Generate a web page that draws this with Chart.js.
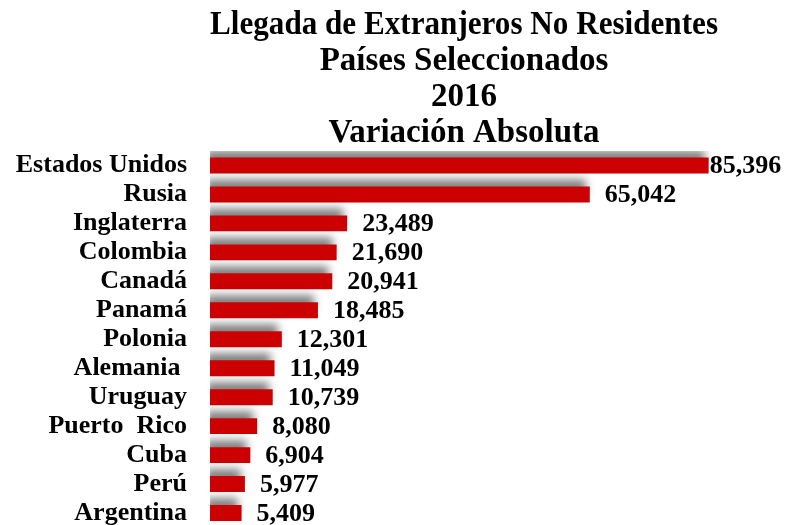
<!DOCTYPE html>
<html>
<head>
<meta charset="utf-8">
<script src="https://cdn.jsdelivr.net/npm/chart.js@4"></script>
<style>
    html, body { margin: 0; padding: 0; background: #fff; overflow: hidden; }
    #clip { width: 794px; height: 525px; overflow: hidden; }
    #wrap { position: relative; width: 794px; height: 530px; }
</style>
</head>
<body>
<div id="clip"><div id="wrap"><canvas id="arrivalsChart"></canvas></div></div>
<script>
// Data
var countries = ['Estados Unidos', 'Rusia', 'Inglaterra', 'Colombia', 'Canadá', 'Panamá',
    'Polonia', 'Alemania ', 'Uruguay', 'Puerto  Rico', 'Cuba', 'Perú', 'Argentina'];
var variation = [85396, 65042, 23489, 21690, 20941, 18485, 12301, 11049, 10739, 8080, 6904, 5977, 5409];
var titleLines = ['Llegada de Extranjeros No Residentes', 'Países Seleccionados', '2016', 'Variación Absoluta'];

var serif = '"Liberation Serif", "Times New Roman", serif';

// Grey blurred shadow sitting above each bar
var barShadow = {
    id: 'barShadow',
    beforeDatasetsDraw: function (chart) {
        var ctx = chart.ctx;
        ctx.save();
        ctx.shadowColor = 'rgba(0, 0, 0, 0.5)';
        ctx.shadowBlur = 8;
        ctx.shadowOffsetX = -4;
        ctx.shadowOffsetY = -7;
    },
    afterDatasetsDraw: function (chart) {
        chart.ctx.restore();
    }
};

// Value labels to the right of the bars
var valueLabels = {
    id: 'valueLabels',
    afterDraw: function (chart) {
        var ctx = chart.ctx;
        var bars = chart.getDatasetMeta(0).data;
        ctx.save();
        ctx.font = 'bold 26px ' + serif;
        ctx.fillStyle = '#000';
        ctx.textBaseline = 'middle';
        ctx.textAlign = 'left';
        bars.forEach(function (bar, i) {
            var text = variation[i].toLocaleString('en-US');
            var x = bar.x + 15;
            if (x + ctx.measureText(text).width > chart.width - 4) {
                x = bar.x + 1;
            }
            ctx.fillText(text, x, bar.y + 1);
        });
        ctx.restore();
    }
};

var ctx = document.getElementById('arrivalsChart').getContext('2d');
new Chart(ctx, {
    type: 'bar',
    data: {
        labels: countries,
        datasets: [{
            data: variation,
            backgroundColor: '#CC0000',
            borderWidth: 0,
            barPercentage: 0.55,
            categoryPercentage: 1
        }]
    },
    options: {
        indexAxis: 'y',
        responsive: true,
        maintainAspectRatio: false,
        animation: false,
        layout: {
            padding: { left: 0, right: 76, top: 0, bottom: 2.5 }
        },
        plugins: {
            legend: { display: false },
            tooltip: { enabled: false },
            title: {
                display: true,
                text: titleLines,
                fullSize: false,
                color: '#000',
                font: { family: serif, size: 33, weight: 'bold', lineHeight: 36 / 33 },
                padding: { top: 7, bottom: 0 }
            }
        },
        scales: {
            x: {
                display: false,
                min: 0,
                max: 87000
            },
            y: {
                grid: { display: false, drawTicks: false },
                border: { display: false },
                afterFit: function (scale) {
                    // fixed label column, and no extra room asked for the edge labels
                    scale.width = 210;
                    scale.paddingTop = 0;
                    scale.paddingBottom = 0;
                },
                ticks: {
                    autoSkip: false,
                    padding: 23,
                    color: '#000',
                    font: { family: serif, size: 26, weight: 'bold' }
                }
            }
        }
    },
    plugins: [barShadow, valueLabels]
});
</script>
</body>
</html>
